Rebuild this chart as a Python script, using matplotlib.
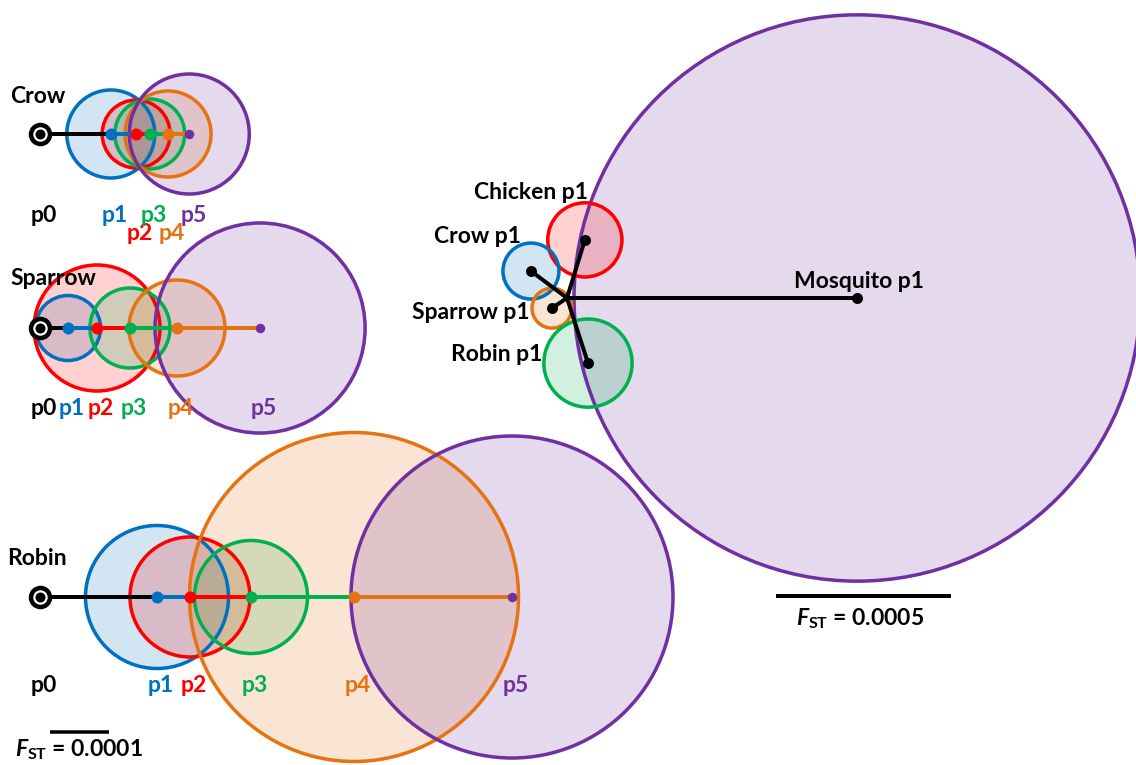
import matplotlib
matplotlib.use('Agg')
import matplotlib.pyplot as plt
from matplotlib.patches import Circle
from matplotlib import transforms as mtransforms

plt.rcParams['font.family'] = ['Lato', 'DejaVu Sans']
plt.rcParams['font.weight'] = 'bold'
plt.rcParams['mathtext.fontset'] = 'custom'
plt.rcParams['mathtext.it'] = 'Lato:italic:bold'
plt.rcParams['mathtext.bf'] = 'Lato:bold'
plt.rcParams['mathtext.rm'] = 'Lato:bold'

# ---------------- data (FST units) ----------------
pop_labels = ['p0', 'p1', 'p2', 'p3', 'p4', 'p5']
pop_colors = ['#000000', '#0070C0', '#FF0000', '#00B050', '#E67312', '#7030A0']

# distance of p0..p5 centroids from p0 along the trajectory
crow_dist = [0.0, 1.20e-4, 1.63e-4, 1.86e-4, 2.17e-4, 2.53e-4]
crow_radius = [0.746e-4, 0.576e-4, 0.593e-4, 0.729e-4, 1.017e-4]          # p1..p5

sparrow_dist = [0.0, 0.475e-4, 0.966e-4, 1.525e-4, 2.322e-4, 3.73e-4]
sparrow_radius = [0.551e-4, 1.068e-4, 0.678e-4, 0.814e-4, 1.78e-4]

robin_dist = [0.0, 1.983e-4, 2.542e-4, 3.576e-4, 5.322e-4, 8.00e-4]
robin_radius = [1.212e-4, 1.017e-4, 0.958e-4, 2.788e-4, 2.729e-4]

left_scale_fst = 0.0001

# p1 comparison panel
p1_names = ['Chicken p1', 'Crow p1', 'Sparrow p1', 'Robin p1', 'Mosquito p1']
p1_colors = ['#FF0000', '#0070C0', '#E67312', '#00B050', '#7030A0']
p1_x = [0.51e-4, -1.03e-4, -0.43e-4, 0.60e-4, 8.29e-4]
p1_y = [1.66e-4, 0.77e-4, -0.29e-4, -1.86e-4, 0.0]
p1_radius = [1.06e-4, 0.80e-4, 0.57e-4, 1.26e-4, 8.09e-4]

right_scale_fst = 0.0005

# ---------------- layout ----------------
W, H = 1136, 765
fig = plt.figure(figsize=(W / 100, H / 100), dpi=100)
ax = fig.add_axes([0, 0, 1, 1])
ax.set_xlim(0, W)
ax.set_ylim(H, 0)
ax.axis('off')

PX = 0.72  # points per pixel
FS = 16.5
LEFT_S = 590000.0   # px per FST unit
RIGHT_S = 350000.0
FILL_ALPHA = 0.18


def panel_transform(s, ox, oy):
    return mtransforms.Affine2D().scale(s, -s).translate(ox, oy) + ax.transData


def draw_trajectory(name, dist, radius, origin, title_pos, label_rows):
    ox, oy = origin
    T = panel_transform(LEFT_S, ox, oy)
    # fills
    for d, r, c in zip(dist[1:], radius, pop_colors[1:]):
        ax.add_patch(Circle((d, 0), r, transform=T, facecolor=c,
                            alpha=FILL_ALPHA, edgecolor='none', zorder=1))
    for d, r, c in zip(dist[1:], radius, pop_colors[1:]):
        ax.add_patch(Circle((d, 0), r, transform=T, facecolor='none',
                            edgecolor=c, lw=3.5 * PX, zorder=2))
    # segments
    for i in range(5):
        ax.plot([dist[i], dist[i + 1]], [0, 0], color=pop_colors[i],
                lw=4 * PX, transform=T, zorder=3, solid_capstyle='butt')
    for i in range(1, 6):
        ms = 12 * PX if i < 5 else 9.5 * PX
        ax.plot([dist[i]], [0], 'o', color=pop_colors[i], ms=ms, mew=0,
                transform=T, zorder=4)
    # p0 marker
    ax.plot([dist[0]], [0], 'o', ms=19 * PX, mfc='white', mec='black',
            mew=4.5 * PX, transform=T, zorder=5)
    ax.plot([dist[0]], [0], 'o', ms=10 * PX, color='black', mew=0,
            transform=T, zorder=6)
    # labels
    bt = mtransforms.blended_transform_factory(T, ax.transData) + \
        mtransforms.ScaledTranslation(4 / 100, 0, fig.dpi_scale_trans)
    for i, (lab, c) in enumerate(zip(pop_labels, pop_colors)):
        ax.text(dist[i], label_rows[i], lab, color=c, fontsize=FS,
                fontweight='bold', ha='center', va='baseline', transform=bt)
    ax.text(title_pos[0], title_pos[1], name, fontsize=FS, fontweight='bold',
            ha='left', va='baseline', color='black')


draw_trajectory('Crow', crow_dist, crow_radius, (40, 134), (10, 103),
                [222, 222, 240, 222, 240, 222])
draw_trajectory('Sparrow', sparrow_dist, sparrow_radius, (40, 328), (10, 285),
                [415] * 6)
draw_trajectory('Robin', robin_dist, robin_radius, (40, 597), (7, 565),
                [692] * 6)

# left scale bar
Tl = panel_transform(LEFT_S, 50, 732)
ax.plot([0, left_scale_fst], [0, 0], color='black', lw=3.5 * PX, transform=Tl,
        solid_capstyle='butt')
ax.text(79, 756, r'$\mathit{F}_{\mathbf{ST}}$ = 0.0001', fontsize=FS,
        fontweight='bold', ha='center', va='baseline')

# ---------------- p1 comparison panel ----------------
Tr = panel_transform(RIGHT_S, 567, 298)
order = [4, 0, 1, 2, 3]
for i in order:
    ax.add_patch(Circle((p1_x[i], p1_y[i]), p1_radius[i], transform=Tr,
                        facecolor=p1_colors[i], alpha=FILL_ALPHA,
                        edgecolor='none', zorder=1))
for i in order:
    ax.add_patch(Circle((p1_x[i], p1_y[i]), p1_radius[i], transform=Tr,
                        facecolor='none', edgecolor=p1_colors[i], lw=3.5 * PX,
                        zorder=2))
for i in range(5):
    ax.plot([0, p1_x[i]], [0, p1_y[i]], color='black', lw=4 * PX,
            transform=Tr, zorder=3, solid_capstyle='butt')
    ax.plot([p1_x[i]], [p1_y[i]], 'o', color='black', ms=11 * PX, mew=0,
            transform=Tr, zorder=4)

label_pos = [(588, 199, 'right'), (521, 243, 'right'), (530, 319, 'right'),
             (542, 361, 'right'), (859, 288, 'center')]
for name, (lx, ly, ha) in zip(p1_names, label_pos):
    ax.text(lx, ly, name, fontsize=FS, fontweight='bold', ha=ha,
            va='baseline', color='black', zorder=6)

Tsr = panel_transform(RIGHT_S, 776, 596)
ax.plot([0, right_scale_fst], [0, 0], color='black', lw=4 * PX, transform=Tsr,
        solid_capstyle='butt')
ax.text(860, 625, r'$\mathit{F}_{\mathbf{ST}}$ = 0.0005', fontsize=FS,
        fontweight='bold', ha='center', va='baseline')

fig.savefig('out.png', dpi=100)
